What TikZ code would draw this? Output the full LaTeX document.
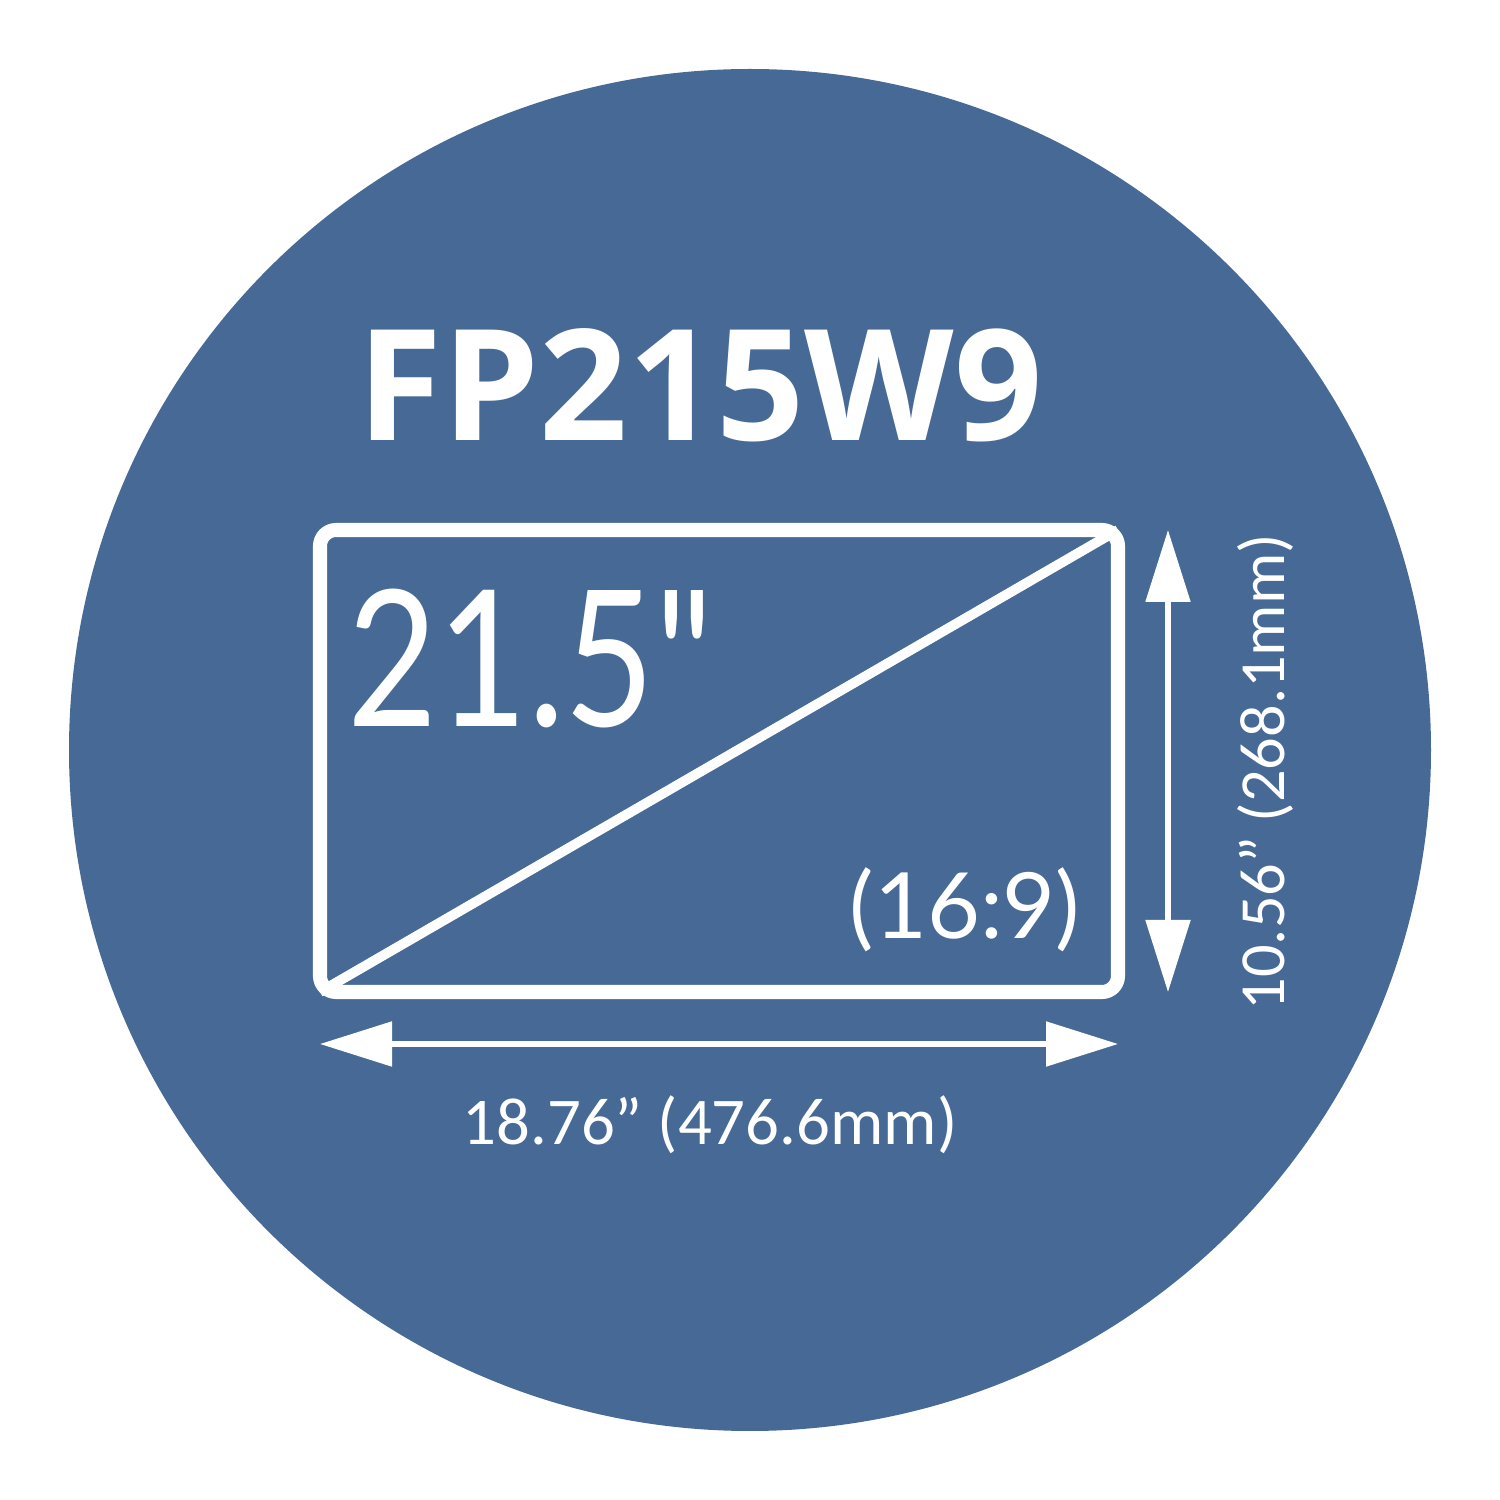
\documentclass[tikz,border=0pt]{standalone}
\usepackage{fontspec}
\setmainfont{Carlito}
\newfontfamily\titlefont{Open Sans}
\newfontfamily\sizefont{Lato}
\usetikzlibrary{arrows.meta}
\definecolor{badge}{HTML}{466A95}

\begin{document}
\begin{tikzpicture}[
  every node/.style={text=white},
  dim/.style={draw=white, line width=1.5pt, {Triangle[length=0.72cm,width=0.44cm]}-{Triangle[length=0.72cm,width=0.44cm]}},
]
\useasboundingbox (0,0) rectangle (15,15);
\fill[white] (0,0) rectangle (15,15);
\fill[badge] (7.5,7.5) circle (6.81);

\node[font=\titlefont\bfseries\fontsize{44}{44}\selectfont] (title) at (7.0,11.15) {FP215W9};
\node[draw=white, line width=4pt, rounded corners=0.16cm, minimum width=7.98cm, minimum height=4.62cm, outer sep=0pt, inner sep=0pt] (screen) at (7.19,7.39) {};
\draw[white, line width=2.8pt] (screen.south west) -- (screen.north east);
\node[font=\sizefont\fontsize{54}{54}\selectfont, anchor=base west, inner sep=0pt, xscale=0.82] (size) at (3.47,7.73) {21.5"};
\node[font=\sizefont\fontsize{26}{26}\selectfont, anchor=base, inner sep=0pt] (ratio) at (9.65,5.61) {(16:9)};

\coordinate (w1) at ([yshift=-0.52cm]screen.south west);
\coordinate (w2) at ([yshift=-0.52cm]screen.south east);
\draw[dim] (w1) -- (w2);
\node[font=\fontsize{19}{19}\selectfont, anchor=base] (wlabel) at (7.1,3.55) {18.76” (476.6mm)};

\coordinate (h1) at ([xshift=0.5cm]screen.north east);
\coordinate (h2) at ([xshift=0.5cm]screen.south east);
\draw[dim] (h1) -- (h2);
\node[font=\fontsize{18.3}{18.3}\selectfont, rotate=90] (hlabel) at (12.65,7.28) {10.56” (268.1mm)};
\end{tikzpicture}
\end{document}
